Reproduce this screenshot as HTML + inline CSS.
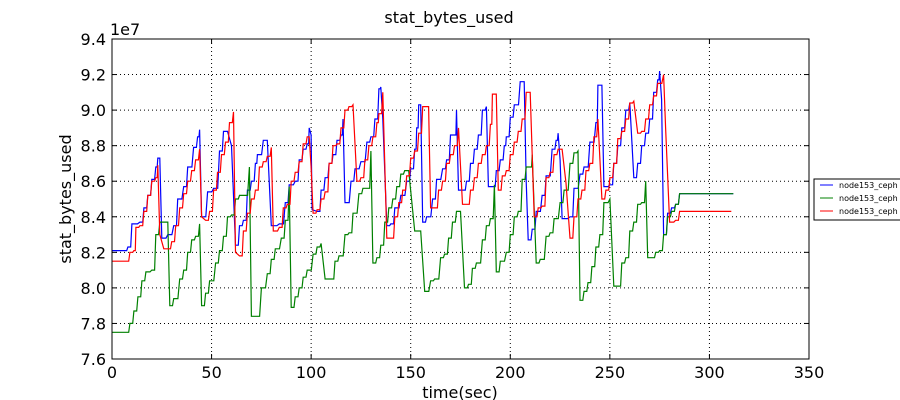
<!DOCTYPE html>
<html><head><meta charset="utf-8"><style>
body{margin:0;background:#fff;}
svg{display:block;font-family:"DejaVu Sans","Liberation Sans",sans-serif;}
</style></head><body>
<svg id="chart" width="900" height="400" viewBox="0 0 900 400">
<rect width="900" height="400" fill="#fff"/>
<text x="449" y="23" font-size="16" text-anchor="middle">stat_bytes_used</text>
<text x="110" y="35" font-size="16">1e7</text>
<text transform="translate(71,199) rotate(-90)" font-size="16" text-anchor="middle">stat_bytes_used</text>
<text x="460" y="398" font-size="16" text-anchor="middle">time(sec)</text>
<g id="grid"></g><g id="series"></g><g id="ticks"></g>
<rect x="112" y="39" width="697" height="320" fill="none" stroke="#000" stroke-width="1"/>
<g>
<rect x="814" y="179" width="100" height="41" fill="#fff" stroke="#000"/>
<line x1="820" y1="185" x2="833" y2="185" stroke="#0000ff"/><text x="839" y="188" font-size="8">node153_ceph</text>
<line x1="820" y1="198" x2="833" y2="198" stroke="#008000"/><text x="839" y="201" font-size="8">node153_ceph</text>
<line x1="820" y1="211" x2="833" y2="211" stroke="#ff0000"/><text x="839" y="214" font-size="8">node153_ceph</text>
</g>
</svg>
<script>
const xTicks=[0,50,100,150,200,250,300,350];
const yTicks=[7.6,7.8,8.0,8.2,8.4,8.6,8.8,9.0,9.2,9.4];
const blueT=[0,6,8,10,14,16,18,20,22,23,24,25,28,31,33,36,38,41,43,44,45,48,51,54,56,58,60,62,64,66,68,70,72,73,76,78,80,84,87,89,92,94,96,98,99,100,100.5,103,105,107,109,111,113,115,116,117,120,122,125,128,130,132,134,135,136,138,140,142,145,148,150,152,153,154,155,156,158,161,163,166,168,170,172,173,174,176,178,180,182,184,186,188,189,191,193,195,197,198,200,202,205,207,208,209,211,213,216,218,221,223,224,225,226,230,232,235,237,240,243,244,246,247,250,252,254,256,258,260,262,264,266,268,270,272,274,275,276,277,279,281,283,285,312];
const blueV=[8.21,8.21,8.23,8.36,8.37,8.45,8.52,8.61,8.68,8.73,8.73,8.28,8.30,8.35,8.50,8.57,8.68,8.79,8.85,8.89,8.40,8.54,8.56,8.77,8.88,8.88,8.80,8.24,8.35,8.38,8.55,8.60,8.70,8.75,8.83,8.83,8.35,8.36,8.48,8.58,8.60,8.72,8.78,8.81,8.90,8.86,8.44,8.43,8.55,8.62,8.70,8.75,8.83,8.86,8.95,8.48,8.60,8.67,8.71,8.82,8.85,8.95,9.12,9.13,8.95,8.35,8.36,8.45,8.52,8.60,8.67,8.78,8.90,9.03,9.03,8.37,8.40,8.50,8.61,8.67,8.72,8.86,8.86,9.00,8.55,8.55,8.60,8.70,8.78,8.86,9.00,9.02,8.57,8.57,8.66,8.72,8.80,8.85,8.96,9.03,9.16,9.16,8.60,8.27,8.33,8.43,8.52,8.63,8.78,8.83,8.87,8.72,8.39,8.40,8.56,8.64,8.68,8.82,8.93,9.14,9.14,8.57,8.58,8.70,8.80,8.90,9.00,9.04,8.62,8.70,8.80,8.87,8.95,9.10,9.17,9.22,9.06,8.30,8.42,8.45,8.47,8.53,8.53];
const greenT=[0,7,9,11,13,15,17,20,22,24,28,29,31,34,36,38,40,42,44,45,47,49,52,54,56,58,60,62,64,66,69,70,72,75,78,80,82,85,87,89,90,92,94,96,98,101,103,105,107,110,112,114,117,119,121,124,126,128,130,131,133,135,137,139,141,143,145,147,149,152,155,157,160,162,165,167,169,171,173,175,177,179,181,183,186,188,190,192,193,195,198,200,202,204,206,208,210,211,213,215,218,220,222,225,227,230,232,234,235,237,239,241,243,245,247,250,252,254,256,258,260,262,264,266,268,269,271,273,275,277,279,281,283,285,312];
const greenV=[7.75,7.75,7.80,7.87,7.95,8.04,8.09,8.10,8.30,8.37,8.37,7.90,7.94,8.05,8.10,8.20,8.27,8.29,8.36,7.90,7.97,8.04,8.14,8.21,8.29,8.40,8.41,8.50,8.52,8.52,8.68,7.84,7.84,8.00,8.08,8.16,8.22,8.28,8.38,8.57,7.89,7.95,8.00,8.06,8.10,8.19,8.23,8.25,8.05,8.05,8.15,8.18,8.30,8.31,8.42,8.53,8.56,8.56,8.77,8.14,8.17,8.24,8.37,8.45,8.50,8.57,8.64,8.66,8.66,8.32,8.32,7.98,8.04,8.05,8.17,8.19,8.28,8.37,8.43,8.43,8.00,8.02,8.11,8.14,8.27,8.35,8.39,8.58,8.09,8.15,8.20,8.30,8.40,8.43,8.61,8.68,8.68,8.75,8.14,8.16,8.29,8.31,8.39,8.48,8.55,8.70,8.76,8.77,7.93,7.98,8.03,8.12,8.23,8.30,8.48,8.50,8.01,8.01,8.14,8.17,8.32,8.37,8.47,8.48,8.60,8.17,8.17,8.20,8.21,8.30,8.40,8.43,8.47,8.53,8.53];
const redT=[0,7,9,11,12,14,16,18,20,22,23,24,26,28,30,32,34,36,38,40,42,44,45,47,49,51,53,55,57,59,61,62,64,66,68,70,72,74,76,78,80,81,84,86,88,90,92,94,96,98,99,100,101,103,105,107,109,111,113,115,117,119,121,123,125,127,129,131,133,134,136,138,140,142,144,146,148,150,152,154,156,158,159,160,162,164,166,168,170,172,174,176,178,180,182,184,186,188,190,191,193,194,196,198,200,202,204,206,208,210,212,214,216,218,220,222,224,226,228,230,232,234,236,238,240,242,244,246,248,250,252,254,256,258,260,262,264,266,268,270,272,274,277,278,280,283,285,311];
const redV=[8.15,8.15,8.20,8.21,8.34,8.35,8.43,8.52,8.60,8.62,8.69,8.30,8.22,8.22,8.26,8.35,8.45,8.53,8.60,8.66,8.72,8.78,8.40,8.38,8.43,8.55,8.65,8.75,8.82,8.93,8.99,8.20,8.18,8.32,8.42,8.50,8.55,8.68,8.71,8.74,8.79,8.32,8.34,8.45,8.47,8.60,8.65,8.71,8.81,8.85,8.85,8.68,8.42,8.44,8.50,8.54,8.70,8.80,8.81,8.90,9.00,9.02,9.03,8.60,8.62,8.72,8.80,8.85,8.93,8.98,9.10,8.28,8.28,8.40,8.48,8.55,8.63,8.73,8.77,8.87,9.02,9.02,9.02,8.45,8.45,8.55,8.60,8.70,8.75,8.80,8.90,8.47,8.47,8.55,8.62,8.70,8.75,8.80,8.92,9.09,9.09,8.55,8.63,8.66,8.75,8.82,8.88,8.95,9.10,9.10,8.40,8.45,8.46,8.62,8.65,8.75,8.78,8.78,8.59,8.28,8.40,8.50,8.55,8.66,8.70,8.85,8.95,8.50,8.55,8.62,8.70,8.84,8.88,8.95,9.04,9.05,8.87,8.88,8.95,9.03,9.08,9.15,9.20,8.90,8.37,8.38,8.43,8.43];

const L=112,R=809,T=39,B=359,NS='http://www.w3.org/2000/svg';
const xs=t=>L+(t-0)/(350-0)*(R-L);
const ys=v=>B-(v-7.6)/(9.4-7.6)*(B-T);
const grid=document.getElementById('grid'),ticks=document.getElementById('ticks'),ser=document.getElementById('series');
function mk(tag,attrs,parent){const e=document.createElementNS(NS,tag);for(const k in attrs)e.setAttribute(k,attrs[k]);parent.appendChild(e);return e;}
xTicks.forEach(t=>{
  const x=xs(t);
  if(t>0&&t<350){const g=mk('line',{x1:x,y1:T,x2:x,y2:B,stroke:'#000','stroke-dasharray':'1,3','stroke-width':1},grid);
  
  }
  mk('line',{x1:x,y1:B,x2:x,y2:B-5,stroke:'#000'},ticks);
  mk('line',{x1:x,y1:T,x2:x,y2:T+5,stroke:'#000'},ticks);
  const tx=mk('text',{x:x,y:B+19,'font-size':16,'text-anchor':'middle'},ticks);tx.textContent=t;
  
  
});
yTicks.forEach(v=>{
  const y=ys(v);
  if(v>7.61&&v<9.39){const g=mk('line',{x1:L,y1:y,x2:R,y2:y,stroke:'#000','stroke-dasharray':'1,3','stroke-width':1},grid);
  
  }
  mk('line',{x1:L,y1:y,x2:L+5,y2:y,stroke:'#000'},ticks);
  mk('line',{x1:R,y1:y,x2:R-5,y2:y,stroke:'#000'},ticks);
  const tx=mk('text',{x:L-6,y:y+6,'font-size':16,'text-anchor':'end'},ticks);tx.textContent=v.toFixed(1);
  
  
});
function line(T,V,color,name){
  let d='M'+xs(T[0]).toFixed(1)+','+ys(V[0]).toFixed(1);
  for(let i=1;i<T.length;i++){
    const x=xs(T[i]).toFixed(1),y=ys(V[i]).toFixed(1);
    if(V[i]>V[i-1]){
      const xm=(xs(T[i-1])*0.3+xs(T[i])*0.7).toFixed(1);
      d+='L'+xm+','+ys(V[i-1]).toFixed(1)+'L'+x+','+y;
    } else d+='L'+x+','+y;
  }
  const p=mk('path',{d:d,fill:'none',stroke:color,'stroke-width':1.2},ser);
  
  
}
line(blueT,blueV,'#0000ff','series-line-blue');
line(greenT,greenV,'#008000','series-line-green');
line(redT,redV,'#ff0000','series-line-red');
</script>
</body></html>
